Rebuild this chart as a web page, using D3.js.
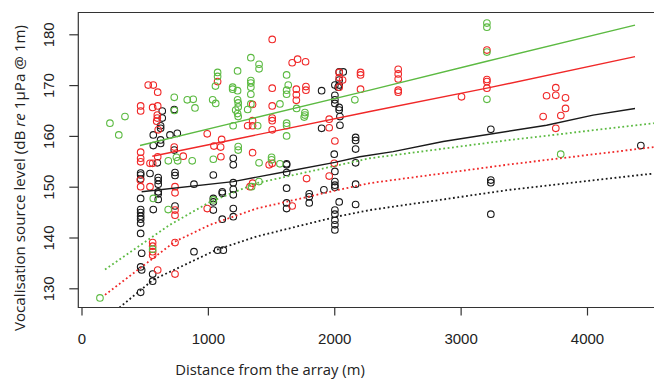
<!DOCTYPE html>
<html><head><meta charset="utf-8">
<script src="https://cdn.jsdelivr.net/npm/d3@7"></script>
<style>html,body{margin:0;padding:0;background:#fff;}svg{display:block;}</style>
</head><body>
<script>
const xTicks = [0, 1000, 2000, 3000, 4000];
const yTicks = [130, 140, 150, 160, 170, 180];
const xTitle = "Distance from the array (m)";

const blackPts = [
[1900,168.9],[2005,170.0],[2039,172.6],[2071,172.6],[2039,171.0],[2039,170.0],[2031,169.6],[2005,168.0],[2005,167.1],[2005,166.4],[2039,165.6],[2039,165.1],[2045,163.8],[2045,162.1],[1900,161.5],
[639,164.9],[639,163.5],[734,165.2],[626,162.0],[626,161.5],[568,160.2],[700,160.2],[758,160.5],[626,159.2],[626,158.5],[568,158.1],[734,157.2],
[2169,159.7],[2169,159.1],[2169,157.4],[1201,155.6],[1201,154.3],[1623,154.5],[600,154.7],[2000,156.4],[2169,154.7],
[468,152.7],[468,152.3],[468,151.5],[542,152.6],[607,151.8],[607,151.2],[607,150.5],[740,152.8],[740,152.2],[607,149.0],[607,148.6],[468,147.7],[607,147.5],
[468,145.5],[468,144.9],[468,144.2],[468,143.6],[468,142.8],[568,145.5],[740,146.2],[468,140.8],[476,136.9],[468,134.2],[476,133.6],[563,132.8],[563,131.4],[468,129.2],
[890,150.5],[890,137.2],[1043,152.3],[1043,147.7],[1043,147.0],[1043,145.4],[1077,137.5],[1122,137.5],[1114,149.0],[1114,148.7],[1114,143.6],
[1201,150.8],[1201,149.5],[1201,148.4],[1201,145.7],[1201,144.1],
[1623,154.3],[1623,152.8],[1623,149.7],[1623,146.8],[1623,145.7],[1802,148.6],[1802,148.0],[1802,146.8],[1918,149.4],
[2005,153.0],[2005,151.0],[2005,150.3],[2005,149.9],[2039,147.0],[2005,145.4],[2005,144.6],[2005,143.4],[2005,142.5],[2005,141.5],
[2169,150.5],[2169,146.5],
[3239,161.3],[3239,151.3],[3239,150.8],[3239,144.6],[4426,158.1]
];

const redPts = [
[1509,179.0],[1667,174.4],[1710,175.1],[1773,174.6],
[528,170.0],[568,170.0],[603,168.6],[468,165.9],[468,164.9],[563,165.6],[603,165.9],[600,164.1],[600,163.5],[595,162.9],[607,161.2],
[1077,170.7],[1509,169.4],[1700,169.2],[1700,168.1],[1700,167.0],[1776,169.7],[1776,169.0],
[1509,165.9],[2039,172.5],[2039,171.5],[2066,171.0],[2039,169.6],[2208,172.5],[2208,172.0],[2208,169.2],
[1354,166.2],[1509,163.5],[1509,163.0],[1354,163.0],[1315,162.0],[1354,162.0],[1509,161.2],[995,160.4],[1109,159.3],[1048,158.0],[1101,157.8],[1960,163.3],[1960,161.6],[2005,159.0],[734,157.8],
[468,156.8],[468,155.6],[468,154.9],[542,154.6],[563,154.6],[603,155.9],[805,156.0],[1103,155.9],[1354,156.7],[2000,154.6],[1485,154.3],[1509,154.6],
[465,151.3],[468,150.0],[542,150.0],[740,150.0],[740,148.8],[740,145.4],[740,144.4],
[563,139.0],[563,138.3],[563,137.2],[563,136.5],[740,139.0],[603,133.6],[740,132.8],
[995,145.7],[1354,150.7],[1333,150.0],[1667,146.2],[1781,151.6],[1960,152.1],
[3208,176.9],[3208,171.1],[3208,170.7],[3208,169.4],[3007,167.7],[2506,173.1],[2506,172.2],[2506,171.2],[2506,169.0],[2506,168.6],
[3680,167.9],[3753,169.5],[3753,168.0],[3830,167.5],[3830,165.4],[3793,164.0],[3653,163.8],[3753,161.5]
];

const greenPts = [
[146,128.1],[225,162.5],[344,163.8],[295,160.2],
[1340,175.4],[1405,174.1],[1405,173.2],[1077,172.5],[1077,171.7],[1235,172.8],[1060,169.8],[1196,169.6],[1196,169.2],[1235,168.9],[1340,170.9],[1340,170.4],[1340,169.6],[1340,168.2],[1623,172.0],[1636,170.0],[1623,169.0],[1623,168.2],
[734,167.6],[837,167.1],[884,167.2],[898,165.5],[1038,167.1],[1062,166.4],[1235,167.1],[1240,166.5],[1240,165.7],[1220,165.1],[1235,164.4],[1240,163.8],[1340,166.3],[1315,165.2],[1570,166.3],[1702,165.4],[1768,164.6],[1768,164.1],[1762,163.7],[2163,167.1],
[1200,162.0],[1394,162.0],[1623,162.5],[1623,162.0],[1623,160.0],[1240,157.9],[1240,157.2],
[687,155.1],[751,155.8],[761,155.1],[876,155.1],[1043,155.4],[1405,154.7],[1504,155.8],[1504,155.3],[1570,154.5],[735,165.0],
[686,145.5],[563,137.7],[568,147.7],[1346,150.0],[1404,151.0],[1043,147.4],
[3208,182.2],[3208,181.4],[3208,176.5],[3208,167.2],[3792,156.4]
];

const greenFit = [[463,158.1],[1228,162.7],[2282,169.0],[3208,174.7],[4380,181.8]];
const redFit = [[560,156.0],[1228,159.4],[2282,164.8],[3208,169.4],[4380,175.6]];
const blackFit = [[476,149.0],[1200,151.0],[1623,153.0],[2005,154.8],[2202,155.9],[2466,156.9],[2862,158.9],[3680,162.1],[4048,164.1],[4380,165.4]];
const greenLow = [[186,133.7],[700,142.5],[1017,147.0],[1386,150.7],[2282,155.6],[3390,159.2],[4529,162.5]];
const redLow = [[186,128.7],[740,139.2],[1017,142.5],[1386,145.7],[2019,149.3],[2282,150.7],[3390,154.4],[4529,157.8]];
const blackLow = [[300,126.2],[568,131.7],[1070,137.6],[1386,140.2],[2019,144.1],[2282,145.4],[3390,149.4],[4529,152.6]];

const COL = {black:"#1a1a1a", red:"#f02828", green:"#5cba42"};

const W = 654, H = 379;
const box = {l:78.3, t:12.5, b:307.5, r:662};
const x = d3.scaleLinear().domain([0,4000]).range([81.5,587]);
const y = d3.scaleLinear().domain([130,180]).range([288.3,34.3]);

const svg = d3.select("body").append("svg").attr("width",W).attr("height",H);
svg.append("defs").append("clipPath").attr("id","clip")
  .append("rect").attr("x",box.l).attr("y",box.t).attr("width",box.r-box.l).attr("height",box.b-box.t);

const g = svg.append("g").attr("clip-path","url(#clip)");
const line = d3.line().x(d=>x(d[0])).y(d=>y(d[1]));

function pts(data,c){
  g.append("g").selectAll("circle").data(data).enter().append("circle")
   .attr("cx",d=>x(d[0])).attr("cy",d=>y(d[1])).attr("r",3.3)
   .attr("fill","none").attr("stroke",c).attr("stroke-width",1.1);
}
pts(blackPts,COL.black); pts(redPts,COL.red); pts(greenPts,COL.green);

function ln(data,c,dotted){
  const p = g.append("path").datum(data).attr("d",line).attr("fill","none")
   .attr("stroke",c).attr("stroke-width",dotted?1.8:1.4);
  if(dotted) p.attr("stroke-dasharray","1.8,2.6");
}
ln(greenFit,COL.green,false); ln(redFit,COL.red,false); ln(blackFit,COL.black,false);
ln(greenLow,COL.green,true); ln(redLow,COL.red,true); ln(blackLow,COL.black,true);

// box
svg.append("path").attr("d",`M${box.r},${box.t}H${box.l}V${box.b}H${box.r}`)
  .attr("fill","none").attr("stroke","#333").attr("stroke-width",1.2);

// x axis
const xa = svg.append("g").attr("transform",`translate(0,${box.b})`)
  .call(d3.axisBottom(x).tickValues(xTicks).tickSize(8).tickPadding(18).tickFormat(d3.format("d")));
xa.select(".domain").remove();
xa.selectAll(".tick line").attr("stroke","#333").attr("stroke-width",1.2);
xa.selectAll("text").attr("font-family","Liberation Sans, Arial, sans-serif").attr("font-size",15).attr("fill","#222");

// y axis
const ya = svg.append("g").attr("transform",`translate(${box.l},0)`)
  .call(d3.axisLeft(y).tickValues(yTicks).tickSize(9).tickPadding(0).tickFormat(d3.format("d")));
ya.select(".domain").remove();
ya.selectAll(".tick line").attr("stroke","#333").attr("stroke-width",1.2);
ya.selectAll("text").attr("font-family","Liberation Sans, Arial, sans-serif").attr("font-size",15).attr("fill","#222")
  .attr("text-anchor","middle").attr("x",0).attr("dy",0)
  .attr("transform","translate(-28,0) rotate(-90)").attr("dominant-baseline","middle");

// titles
svg.append("text").attr("x",270).attr("y",375).attr("text-anchor","middle")
  .attr("font-family","Open Sans, sans-serif").attr("font-size",14.8).attr("fill","#222").text(xTitle);
const yt = svg.append("text").attr("transform","translate(25,178) rotate(-90)").attr("text-anchor","middle")
  .attr("font-family","Open Sans, sans-serif").attr("font-size",15.2).attr("fill","#222");
yt.append("tspan").text("Vocalisation source level (dB ");
yt.append("tspan").attr("font-style","italic").text("re");
yt.append("tspan").text(" 1µPa @ 1m)");
</script>
</body></html>
